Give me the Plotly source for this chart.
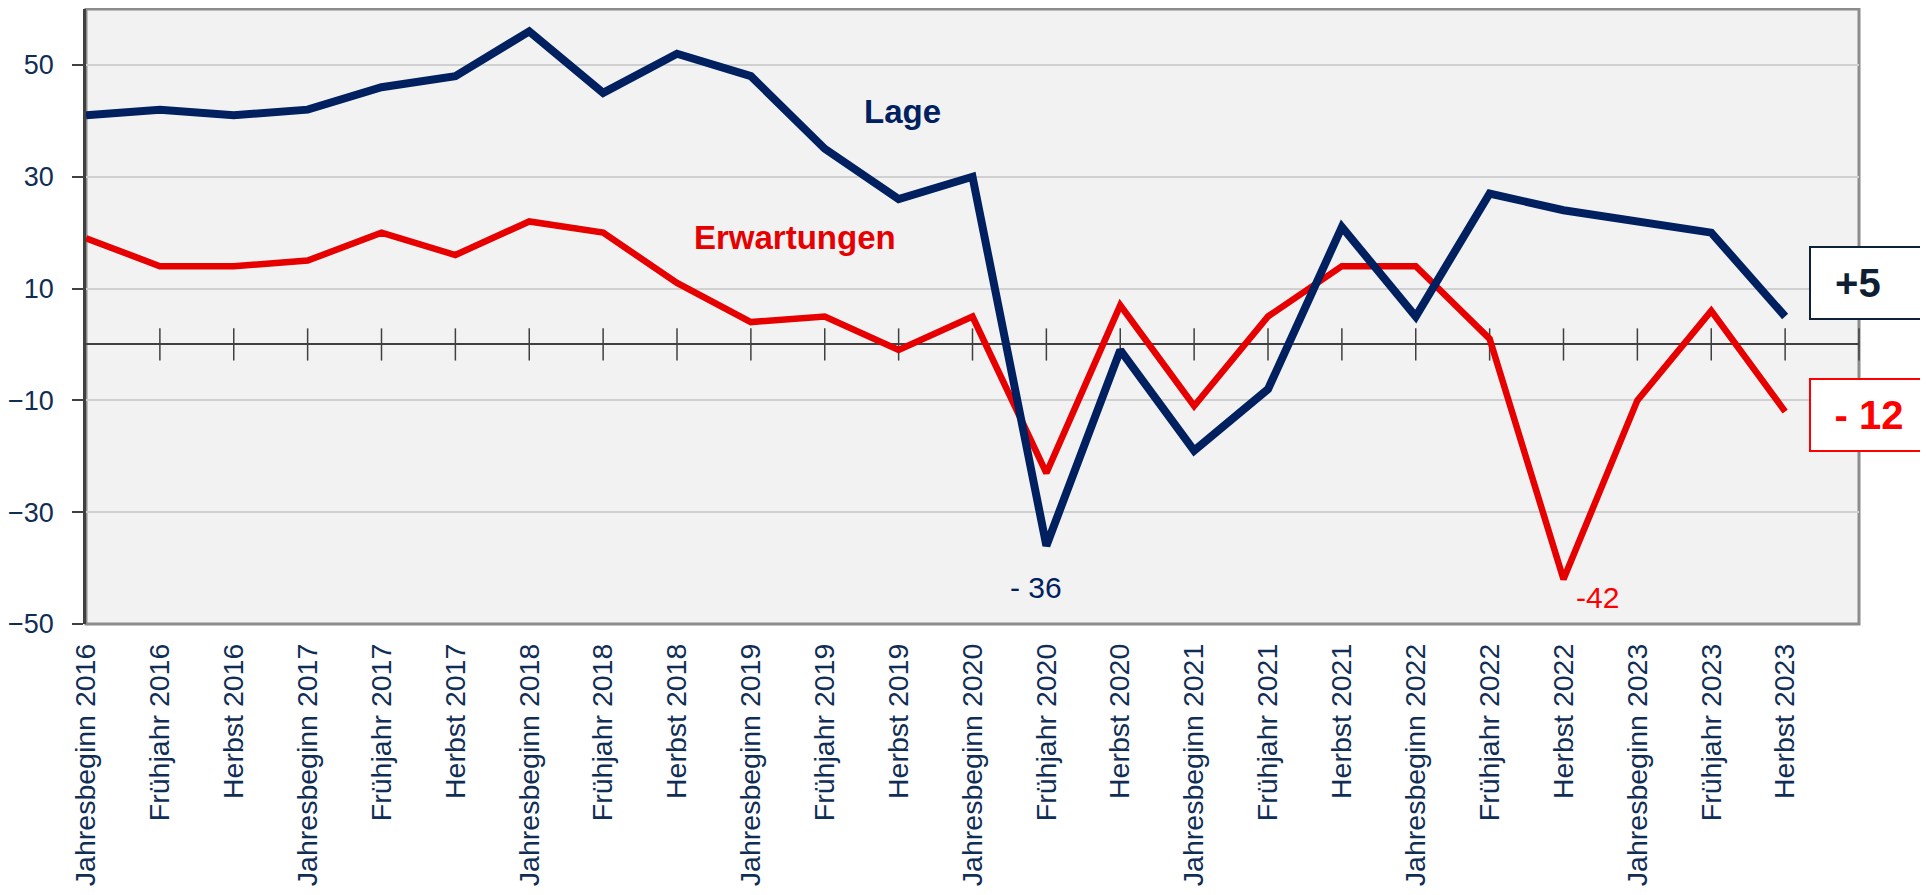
import plotly.graph_objects as go

# Kategorien (Umfragezeitpunkte)
categories = [
    "Jahresbeginn 2016", "Frühjahr 2016", "Herbst 2016",
    "Jahresbeginn 2017", "Frühjahr 2017", "Herbst 2017",
    "Jahresbeginn 2018", "Frühjahr 2018", "Herbst 2018",
    "Jahresbeginn 2019", "Frühjahr 2019", "Herbst 2019",
    "Jahresbeginn 2020", "Frühjahr 2020", "Herbst 2020",
    "Jahresbeginn 2021", "Frühjahr 2021", "Herbst 2021",
    "Jahresbeginn 2022", "Frühjahr 2022", "Herbst 2022",
    "Jahresbeginn 2023", "Frühjahr 2023", "Herbst 2023",
]
lage = [41, 42, 41, 42, 46, 48, 56, 45, 52, 48, 35, 26, 30, -36, -1, -19, -8, 21, 5, 27, 24, 22, 20, 5]
erwartungen = [19, 14, 14, 15, 20, 16, 22, 20, 11, 4, 5, -1, 5, -23, 7, -11, 5, 14, 14, 1, -42, -10, 6, -12]
y_ticks = [-50, -30, -10, 10, 30, 50]

NAVY = "#002060"
RED = "#e60000"
LABEL_COLOR = "#0f2d55"
FONT = "Liberation Sans, Arial, sans-serif"

idx = list(range(len(categories)))
# Kreuz-Teilstriche auf der Nulllinie (zwischen den Kategorien bis zum rechten Rand)
cross_ticks = list(range(1, len(categories) + 1))

fig = go.Figure()

fig.add_trace(go.Scatter(
    x=cross_ticks, y=[0] * len(cross_ticks),
    mode="markers",
    marker=dict(symbol="line-ns", size=23, line=dict(width=1.5, color="#404040")),
    hoverinfo="skip", showlegend=False, cliponaxis=False,
))
fig.add_trace(go.Scatter(
    x=idx, y=erwartungen, name="Erwartungen", mode="lines",
    line=dict(color=RED, width=6.5, shape="linear"),
    showlegend=False,
))
fig.add_trace(go.Scatter(
    x=idx, y=lage, name="Lage", mode="lines",
    line=dict(color=NAVY, width=8, shape="linear"),
    showlegend=False,
))

# Rahmen der Zeichenfläche
fig.add_shape(type="rect", xref="paper", yref="paper", x0=0, x1=1, y0=0, y1=1,
              line=dict(color="#8c8c8c", width=3), layer="below")

annotations = [
    dict(x=11.05, y=41.6, text="<b>Lage</b>", font=dict(family=FONT, size=33, color=NAVY)),
    dict(x=9.6, y=19.2, text="<b>Erwartungen</b>", font=dict(family=FONT, size=33, color=RED)),
    dict(x=12.86, y=-43.4, text="- 36", font=dict(family=FONT, size=30, color=NAVY)),
    dict(x=20.46, y=-45.3, text="-42", font=dict(family=FONT, size=30, color="#ff0000")),
]
for a in annotations:
    fig.add_annotation(xref="x", yref="y", showarrow=False, xanchor="center", yanchor="middle", **a)

# Endwerte in Kästen
fig.add_annotation(
    xref="paper", yref="y", x=0.9718, y=11.0, xanchor="left", yanchor="middle",
    text="<b>+5&nbsp;&nbsp;</b>", showarrow=False,
    font=dict(family=FONT, size=40, color="#0f1f33"),
    bgcolor="white", bordercolor="#0f2137", borderwidth=2, borderpad=0,
    width=116, height=70,
)
fig.add_annotation(
    xref="paper", yref="y", x=0.9718, y=-12.7, xanchor="left", yanchor="middle",
    text="<b>- 12</b>", showarrow=False,
    font=dict(family=FONT, size=40, color="#ff0000"),
    bgcolor="white", bordercolor="#ff0000", borderwidth=2, borderpad=0,
    width=116, height=70,
)

# die Seite hat 8px Rand, daher etwas kleiner
fig.update_layout(
    width=1920, height=887,
    margin=dict(l=78, r=69, t=1, b=271),
    paper_bgcolor="white",
    plot_bgcolor="#f2f2f2",
    showlegend=False,
)
fig.update_xaxes(
    range=[0, 24], automargin=False,
    tickmode="array", tickvals=idx, ticktext=categories,
    tickangle=-90, ticks="", showgrid=False, zeroline=False,
    showline=False, ticklabelstandoff=13,
    tickfont=dict(family=FONT, size=28.5, color=LABEL_COLOR),
)
fig.update_yaxes(
    range=[-50, 60], automargin=False,
    tickmode="array", tickvals=y_ticks,
    ticks="outside", ticklen=11, tickcolor="#404040", tickwidth=1.5,
    showgrid=True, gridcolor="#d0d0d0", gridwidth=1.5,
    zeroline=True, zerolinecolor="#404040", zerolinewidth=1.5,
    showline=True, linecolor="#404040", linewidth=2.5,
    ticklabelstandoff=13,
    tickfont=dict(family=FONT, size=27, color=LABEL_COLOR),
)

fig.write_html("out.html")
